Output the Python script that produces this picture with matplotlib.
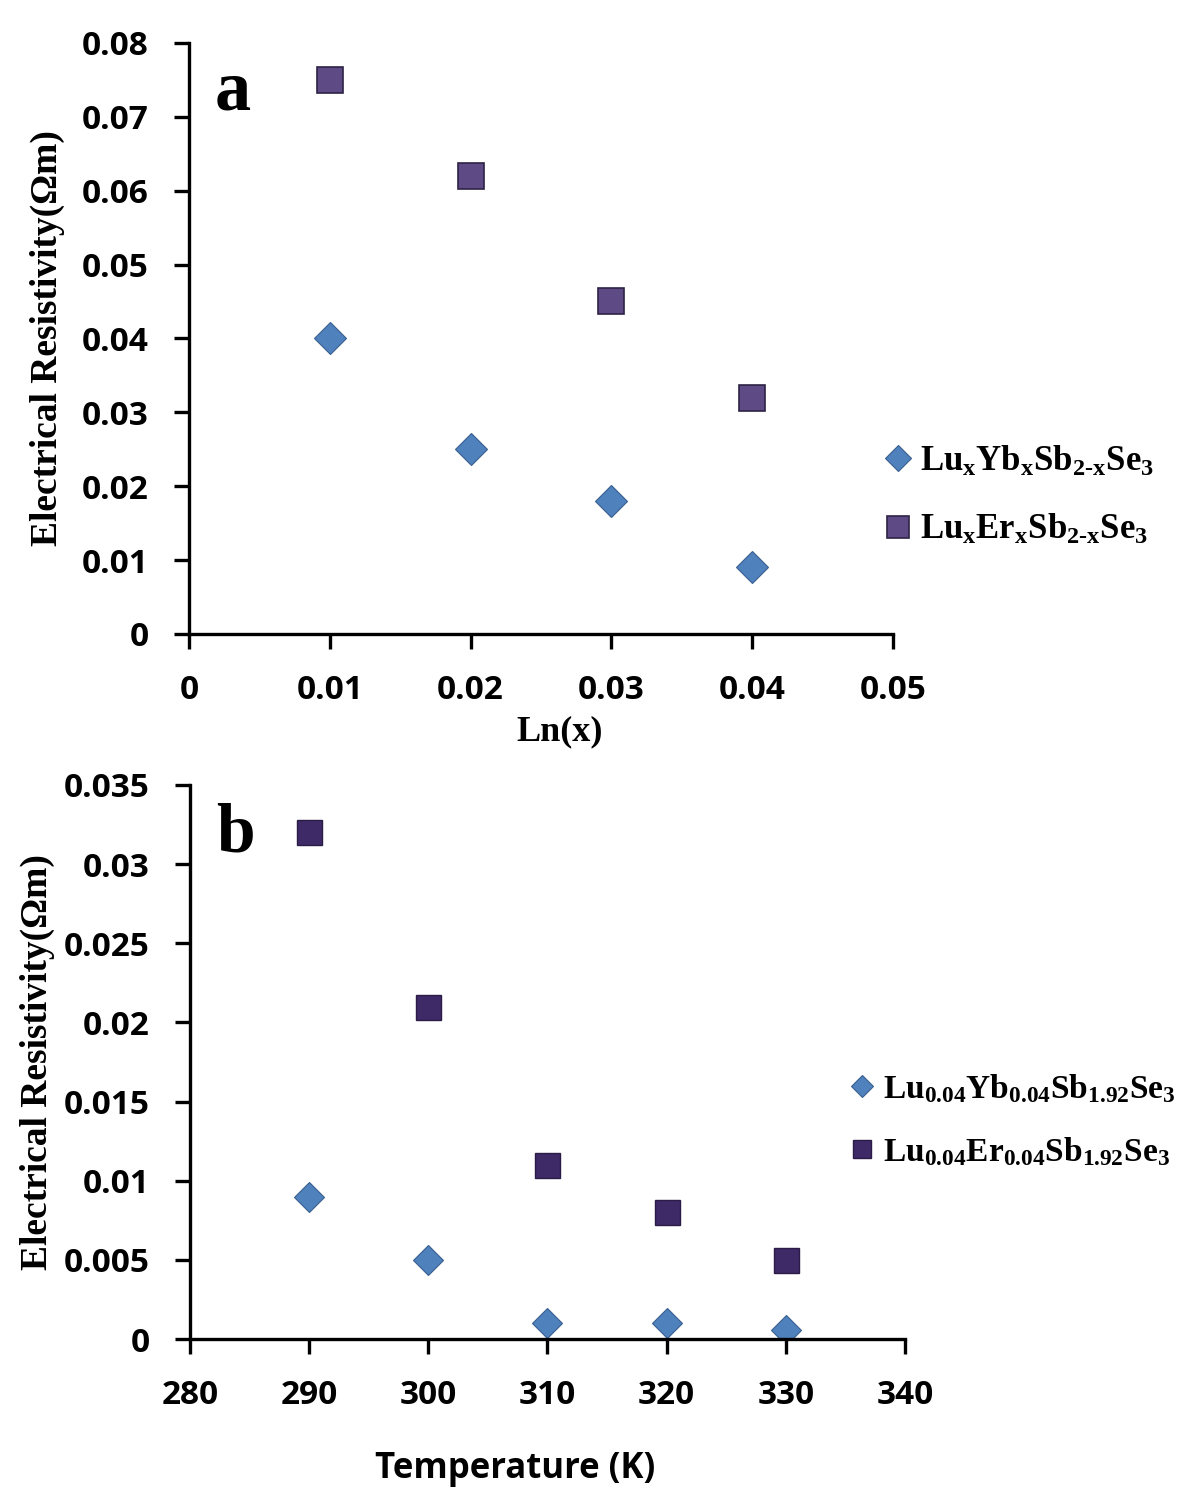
import matplotlib
matplotlib.use("Agg")
import matplotlib.pyplot as plt

# panel a data
a_x = [0.01, 0.02, 0.03, 0.04]
a_yb = [0.040, 0.025, 0.018, 0.009]
a_er = [0.075, 0.062, 0.045, 0.032]
a_xticks = [0, 0.01, 0.02, 0.03, 0.04, 0.05]
a_xticklabels = ["0", "0.01", "0.02", "0.03", "0.04", "0.05"]
a_yticks = [0, 0.01, 0.02, 0.03, 0.04, 0.05, 0.06, 0.07, 0.08]
a_yticklabels = ["0", "0.01", "0.02", "0.03", "0.04", "0.05", "0.06", "0.07", "0.08"]

# panel b data
b_x = [290, 300, 310, 320, 330]
b_yb = [0.009, 0.005, 0.001, 0.001, 0.0006]
b_er = [0.032, 0.021, 0.011, 0.008, 0.005]
b_xticks = [280, 290, 300, 310, 320, 330, 340]
b_xticklabels = ["280", "290", "300", "310", "320", "330", "340"]
b_yticks = [0, 0.005, 0.01, 0.015, 0.02, 0.025, 0.03, 0.035]
b_yticklabels = ["0", "0.005", "0.01", "0.015", "0.02", "0.025", "0.03", "0.035"]

plt.rcParams["mathtext.fontset"] = "custom"
plt.rcParams["mathtext.rm"] = "Liberation Serif:bold"
plt.rcParams["mathtext.it"] = "Liberation Serif:bold"
plt.rcParams["mathtext.bf"] = "Liberation Serif:bold"

blue = "#4F81BD"
purple_a = "#5E4B85"
purple_b = "#3F2A68"

serif = "Liberation Serif"
sans = "Open Sans"

fig = plt.figure(figsize=(12, 15.04), dpi=100)
ax1 = fig.add_axes([0.1575, 0.5785, 0.5867, 0.393])
ax2 = fig.add_axes([0.1583, 0.1097, 0.5958, 0.3684])


def style_axis(ax):
    for s in ["top", "right"]:
        ax.spines[s].set_visible(False)
    for s in ["left", "bottom"]:
        ax.spines[s].set_linewidth(2.4)
    ax.tick_params(direction="out", length=11, width=2.4, pad=18)
    for lab in ax.get_xticklabels() + ax.get_yticklabels():
        lab.set_fontfamily(sans)
        lab.set_fontweight("bold")
        lab.set_fontsize(24)


# panel a
ax1.plot(a_x, a_yb, linestyle="none", marker="D", ms=16, color=blue,
         mec="#3A5F8F", mew=0.8, label=r"$\mathrm{Lu_xYb_xSb_{2\text{-}x}Se_3}$")
ax1.plot(a_x, a_er, linestyle="none", marker="s", ms=19, color=purple_a,
         mec="#2E2345", mew=1.2, label=r"$\mathrm{Lu_xEr_xSb_{2\text{-}x}Se_3}$")
ax1.set_xlim(0, 0.05)
ax1.set_ylim(0, 0.08)
ax1.set_xticks(a_xticks)
ax1.set_xticklabels(a_xticklabels)
ax1.set_yticks(a_yticks)
ax1.set_yticklabels(a_yticklabels)
style_axis(ax1)
ax1.set_xlabel("Ln(x)", fontfamily=serif, fontweight="bold", fontsize=26, labelpad=6)
ax1.xaxis.label.set_x(0.526)
ax1.set_ylabel("Electrical Resistivity(\u03a9m)", fontfamily=serif, fontweight="bold",
               fontsize=27, labelpad=12)
ax1.text(0.0625, 0.887, "a", transform=ax1.transAxes, ha="center", va="baseline",
         fontfamily=serif, fontweight="bold", fontsize=52)
leg1 = ax1.legend(loc="center left", bbox_to_anchor=(0.935, 0.235), frameon=False,
                  fontsize=25, handletextpad=0.1, labelspacing=1.0, markerscale=0.85,
                  handlelength=1.1)

# panel b
ax2.plot(b_x, b_yb, linestyle="none", marker="D", ms=15, color=blue,
         mec="#3A5F8F", mew=0.8, label=r"$\mathrm{Lu_{0.04}Yb_{0.04}Sb_{1.92}Se_3}$")
ax2.plot(b_x, b_er, linestyle="none", marker="s", ms=18, color=purple_b,
         mec="#2A1C47", mew=1.0, label=r"$\mathrm{Lu_{0.04}Er_{0.04}Sb_{1.92}Se_3}$")
ax2.set_xlim(280, 340)
ax2.set_ylim(0, 0.035)
ax2.set_xticks(b_xticks)
ax2.set_xticklabels(b_xticklabels)
ax2.set_yticks(b_yticks)
ax2.set_yticklabels(b_yticklabels)
style_axis(ax2)
ax2.set_xlabel("Temperature (K)", fontfamily=sans, fontweight="bold", fontsize=25,
               labelpad=28)
ax2.xaxis.label.set_x(0.455)
ax2.set_ylabel("Electrical Resistivity(\u03a9m)", fontfamily=serif, fontweight="bold",
               fontsize=27, labelpad=6)
ax2.text(0.063, 0.88, "b", transform=ax2.transAxes, ha="center", va="baseline",
         fontfamily=serif, fontweight="bold", fontsize=50)
leg2 = ax2.legend(loc="center left", bbox_to_anchor=(0.872, 0.395), frameon=False,
                  fontsize=24, handletextpad=0.1, labelspacing=0.9, markerscale=0.75,
                  handlelength=1.1)

fig.savefig("out.png", dpi=100, facecolor="white")
